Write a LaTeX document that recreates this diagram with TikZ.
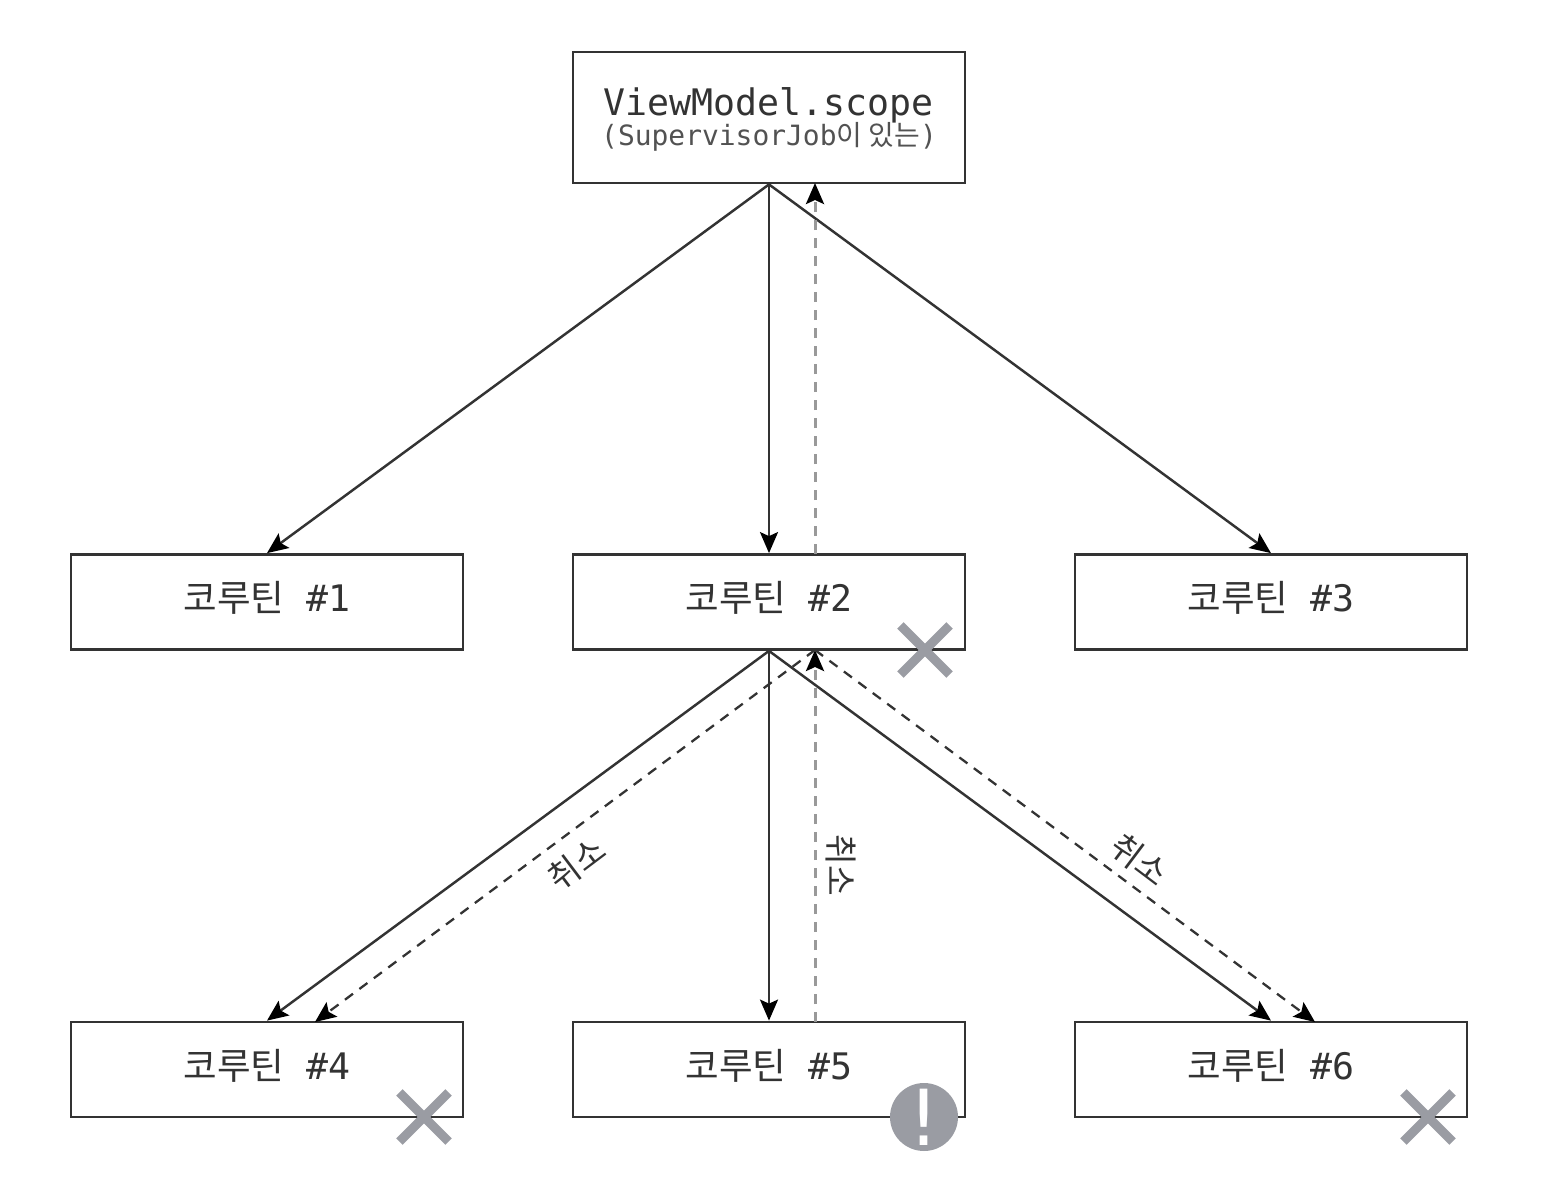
\documentclass[tikz,border=0pt]{standalone}
\usepackage{fontspec}
\setmonofont{DejaVu Sans Mono}
\newfontfamily\kofont{Noto Sans CJK KR}
\newfontfamily\markfont{DejaVu Sans}
\usetikzlibrary{arrows.meta,shapes.misc}
\definecolor{linegray}{HTML}{333333}
\definecolor{markgray}{HTML}{9A9CA3}
\tikzset{
  scopebox/.style={draw=linegray, line width=1.6pt, fill=white, minimum width=7.84cm, minimum height=2.62cm, align=center, inner sep=0pt, text=linegray},
  jobbox/.style={draw=linegray, line width=1.6pt, fill=white, minimum width=7.84cm, minimum height=1.9cm, inner sep=0pt, text=linegray, font=\fontsize{20.8}{24}\selectfont},
  child/.style={draw=linegray, line width=1.4pt, -{Stealth[length=0.42cm,width=0.36cm,inset=0.08cm,color=black]}},
  cancel/.style={draw=linegray, line width=1.3pt, dash pattern=on 0.2cm off 0.16cm, -{Stealth[length=0.42cm,width=0.36cm,inset=0.08cm,color=black]}},
  cancelup/.style={cancel, draw=linegray!50, line width=1.7pt},
  cancellabel/.style={font=\kofont\fontsize{19}{20}\selectfont, text=linegray, inner sep=0pt},
  xmark/.style={cross out, draw=markgray, line width=5.2pt, minimum size=0.8cm, inner sep=0pt},
  warnmark/.style={circle, fill=markgray, minimum size=1.36cm, inner sep=0pt, text=white, font=\markfont\fontsize{44}{44}\selectfont},
}
\newcommand{\joblabel}[1]{\raisebox{2.2pt}[\height][\depth]{{\kofont 코루틴}\ \ {\ttfamily\##1}}}
\begin{document}
\begin{tikzpicture}[x=0.02cm, y=-0.02cm]
\useasboundingbox[fill=white] (0,0) rectangle (1546,1180);

% Top box
\node[scopebox] (vm) at (769,117.5) {\raisebox{-1.1pt}[\height][\depth]{\ttfamily\fontsize{20.8}{26}\selectfont ViewModel.scope}\\[-1pt]
  \raisebox{-1.1pt}[\height][\depth]{\fontsize{15.9}{18}\selectfont\ttfamily\textcolor{linegray!85}{(SupervisorJob{\kofont 이 있는})}}};

% Coroutine boxes
\node[jobbox] (job1) at (267,602) {\joblabel{1}};
\node[jobbox] (job2) at (769,602) {\joblabel{2}};
\node[jobbox] (job3) at (1271,602) {\joblabel{3}};
\node[jobbox] (job4) at (267,1069.5) {\joblabel{4}};
\node[jobbox] (job5) at (769,1069.5) {\joblabel{5}};
\node[jobbox] (job6) at (1271,1069.5) {\joblabel{6}};

% Ends of the dashed lines
\coordinate (vmin) at (815,183);
\coordinate (job2out) at (815,554);
\coordinate (job2in) at (815,650);
\coordinate (job4in) at (315,1022);
\coordinate (job5out) at (815,1022);
\coordinate (job6in) at (1315,1022);

% Parent to child
\draw[child] (vm.south) -- (job1.north);
\draw[child] (vm.south) -- (job2.north);
\draw[child] (vm.south) -- (job3.north);
\draw[child] (job2.south) -- (job4.north);
\draw[child] (job2.south) -- (job5.north);
\draw[child] (job2.south) -- (job6.north);

% Cancellation
\draw[cancelup] (job2out) -- (vmin);
\draw[cancelup] (job5out) -- (job2in);
\draw[cancel] (job2in) -- (job4in);
\draw[cancel] (job2in) -- (job6in);
\node[cancellabel, rotate=37] (cancel4) at (577,864) {취소};
\node[cancellabel, rotate=-90] (cancel5) at (841,865) {취소};
\node[cancellabel, rotate=-37] (cancel6) at (1140,860) {취소};

% Marks
\node[xmark] (x2) at (925,650) {};
\node[xmark] (x4) at (424,1117) {};
\node[xmark] (x6) at (1428,1117) {};
\node[warnmark] (warn5) at (924,1117) {!};
\end{tikzpicture}
\end{document}
